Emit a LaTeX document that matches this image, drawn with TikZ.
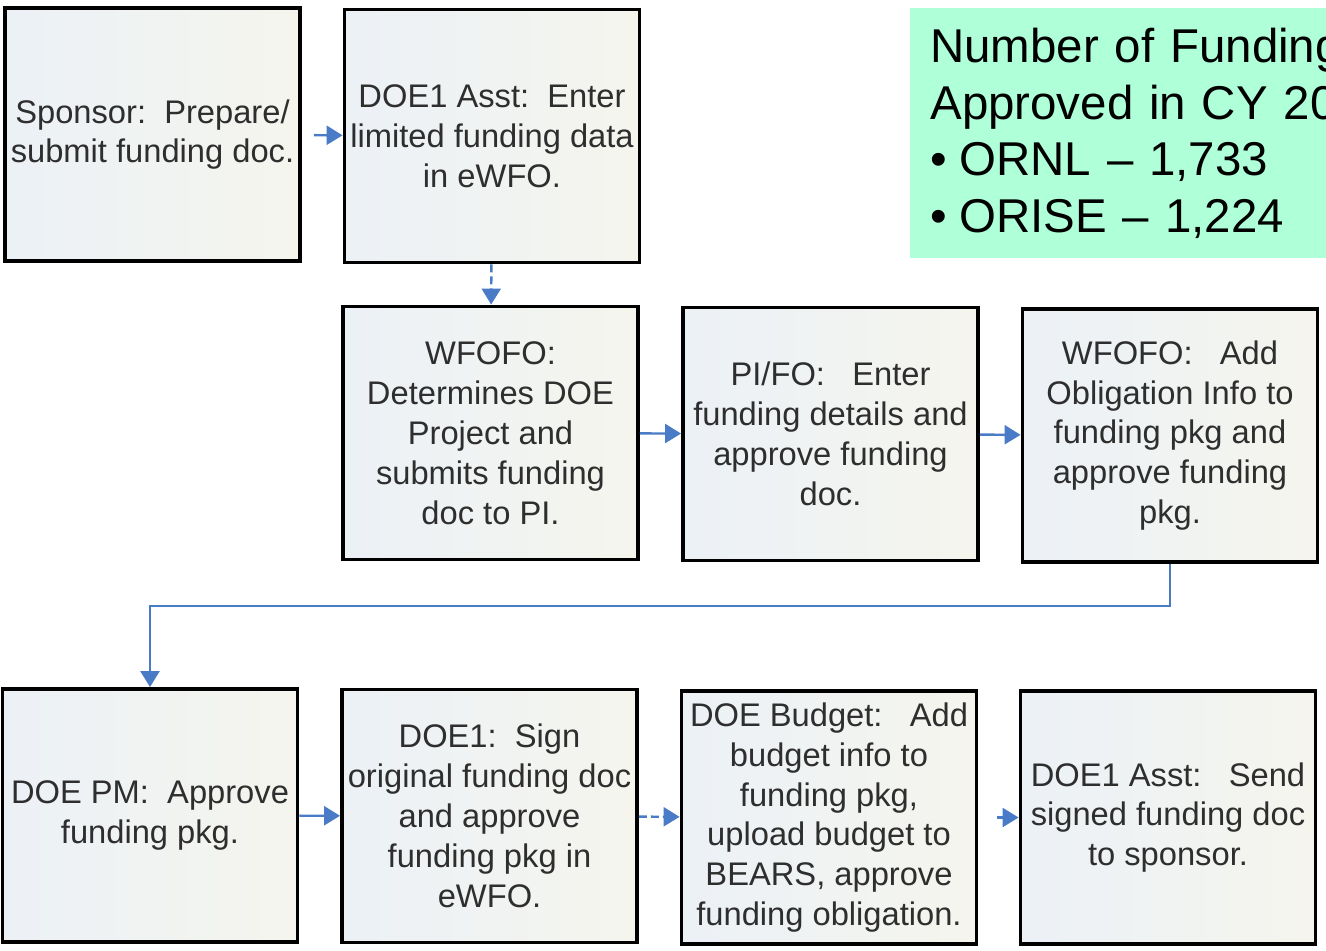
\documentclass[tikz,border=0pt]{standalone}
\usepackage{fontspec}
\setmainfont{Liberation Sans}
\usetikzlibrary{arrows.meta,positioning}

\definecolor{flowblue}{RGB}{74,123,198}
\definecolor{notegreen}{RGB}{175,255,217}
\definecolor{boxblue}{RGB}{236,241,246}
\definecolor{boxcream}{RGB}{245,245,238}

\tikzset{
  stepbox/.style={draw=black, line width=2.2pt, left color=boxblue, right color=boxcream,
    minimum width=5.9cm, minimum height=5.06cm, inner sep=2pt, align=center,
    text=black!82, font=\fontsize{18.6}{22.7}\selectfont},
  flow/.style={draw=flowblue, line width=1.4pt, -{Triangle[width=0.38cm,length=0.32cm]}},
  flowdash/.style={flow, dash pattern=on 0.16cm off 0.08cm},
  notebox/.style={fill=notegreen, anchor=north west, minimum height=5cm, text width=9cm,
    inner xsep=0.4cm, align=left, font=\fontsize{27}{32.3}\selectfont}
}

\begin{document}
\begin{tikzpicture}
\useasboundingbox (0,0) rectangle (26.52,-19.02);

% Top row: sponsor and DOE1 assistant
\node[stepbox] (spons) at (3.05,-2.69) {Sponsor:\ \ Prepare/\\submit funding doc.};
\node[stepbox] (asst) at (9.84,-2.72) {DOE1 Asst:\ \ Enter\\limited funding data\\in eWFO.};

% Count of funding docs, runs off the right edge
\begin{scope}
\clip (0,0) rectangle (26.52,-19.02);
\node[notebox] (count) at (18.2,-0.16)
  {Number of Funding\\Approved in CY 20\\\textbullet\hspace{0.25cm}ORNL -- 1,733\\\textbullet\hspace{0.25cm}ORISE -- 1,224};
\end{scope}

% Middle row
\node[stepbox] (wfofo) at (9.81,-8.66) {WFOFO:\\Determines DOE\\Project and\\submits funding\\doc to PI.};
\node[stepbox] (pifo) at (16.61,-8.68) {PI/FO:\ \ \ Enter\\funding details and\\approve funding\\doc.};
\node[stepbox] (oblig) at (23.40,-8.71) {WFOFO:\ \ \ Add\\Obligation Info to\\funding pkg and\\approve funding\\pkg.};

% Bottom row
\node[stepbox] (pm) at (3.00,-16.31) {DOE PM:\ \ Approve\\funding pkg.};
\node[stepbox] (sign) at (9.79,-16.32) {DOE1:\ \ Sign\\original funding doc\\and approve\\funding pkg in\\eWFO.};
\node[stepbox] (budget) at (16.58,-16.35) {DOE Budget:\ \ \ Add\\budget info to\\funding pkg,\\upload budget to\\BEARS, approve\\funding obligation.};
\node[stepbox] (send) at (23.36,-16.35) {DOE1 Asst:\ \ \ Send\\signed funding doc\\to sponsor.};

% Connectors
\draw[flow, shorten <=0.24cm] (spons) -- (asst);
\draw[flowdash] (asst) -- (wfofo);
\draw[flow] (wfofo) -- (pifo);
\draw[flow] (pifo) -- (oblig);
\draw[flow] (oblig.south) -- ++(0,-0.84) -| (pm.north);
\draw[flow] (pm) -- (sign);
\draw[flowdash] (sign) -- (budget);
\draw[flow, shorten <=0.38cm] (budget) -- (send);
\end{tikzpicture}
\end{document}
